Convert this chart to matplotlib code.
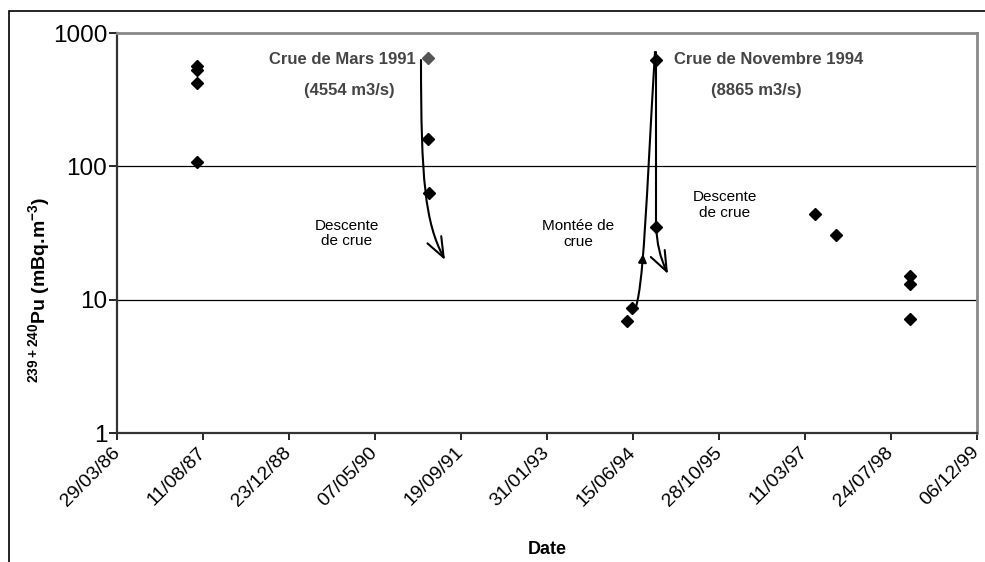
import datetime as dt
import matplotlib
matplotlib.use("Agg")
import matplotlib.pyplot as plt
import matplotlib.dates as mdates
from matplotlib.patches import FancyArrowPatch, Rectangle
from matplotlib.path import Path
from matplotlib.ticker import FixedLocator, FixedFormatter, NullLocator

plt.rcParams['font.family'] = ['Liberation Sans', 'DejaVu Sans']
plt.rcParams['mathtext.fontset'] = 'custom'
plt.rcParams['mathtext.rm'] = 'Liberation Sans'
plt.rcParams['mathtext.bf'] = 'Liberation Sans:bold'

# ---------------- data ----------------
sample_dates = ["1987-07-05", "1987-07-05", "1987-07-05", "1987-07-05",
                "1991-03-14", "1991-03-15",
                "1994-05-09", "1994-06-07",
                "1994-10-27", "1994-10-28",
                "1997-05-08", "1997-09-07",
                "1998-11-10", "1998-11-10", "1998-11-10"]
pu_values = [565, 527, 422, 108,
             160, 63.4,
             6.9, 8.7,
             627, 34.8,
             43.7, 30.5,
             15.0, 13.0, 7.1]

peak_1991_date = ["1991-03-13"]
peak_1991_value = [646]

y_ticks = [1, 10, 100, 1000]
y_tick_labels = ["1", "10", "100", "1000"]
x_start = "1986-03-29"
x_step_days = 500
n_x_ticks = 11

annotations = [
    ("Crue de Mars 1991", 0.2622, 0.935, True),
    ("(4554 m3/s)", 0.2703, 0.8575, True),
    ("Crue de Novembre 1994", 0.7581, 0.935, True),
    ("(8865 m3/s)", 0.7436, 0.8575, True),
    ("Descente\nde crue", 0.2674, 0.4988, False),
    ("Montée de\ncrue", 0.536, 0.4975, False),
    ("Descente\nde crue", 0.707, 0.570, False),
]

# ---------------- figure ----------------
W, H = 985, 562
fig = plt.figure(figsize=(W / 100, H / 100), dpi=100)
ax = fig.add_axes([117 / W, 1 - 433 / H, 860 / W, 400 / H])

to_date = lambda s: dt.datetime.strptime(s, "%Y-%m-%d")
xd = [to_date(s) for s in sample_dates]

ax.set_yscale('log')
ax.set_ylim(1, 1000)
x0 = to_date(x_start)
xticks = [x0 + dt.timedelta(days=x_step_days * k) for k in range(n_x_ticks)]
ax.set_xlim(xticks[0], xticks[-1])

ax.plot(xd, pu_values, linestyle='none', marker='D', ms=6.3,
        color='black', zorder=5, clip_on=False)
ax.plot([to_date(s) for s in peak_1991_date], peak_1991_value,
        linestyle='none', marker='D', ms=6.3, color='#555555', zorder=5)

# grid
for v in y_ticks[1:-1]:
    ax.axhline(v, color='black', lw=0.9, zorder=1)

ax.yaxis.set_major_locator(FixedLocator(y_ticks))
ax.yaxis.set_major_formatter(FixedFormatter(y_tick_labels))
ax.yaxis.set_minor_locator(NullLocator())
ax.tick_params(axis='y', which='major', direction='out', length=6,
               width=1.2, labelsize=17.5, pad=1, colors='black')

ax.xaxis.set_major_locator(FixedLocator(mdates.date2num(xticks)))
ax.xaxis.set_major_formatter(mdates.DateFormatter('%d/%m/%y'))
ax.xaxis.set_minor_locator(NullLocator())
ax.tick_params(axis='x', which='major', direction='out', length=5,
               width=1.2, labelsize=14, pad=7)
for lab in ax.get_xticklabels():
    lab.set_rotation(45)
    lab.set_ha('right')
    lab.set_va('center')
    lab.set_rotation_mode('anchor')

for side in ['top', 'right']:
    ax.spines[side].set_color('#888888')
    ax.spines[side].set_linewidth(2.0)
for side in ['left', 'bottom']:
    ax.spines[side].set_color('#333333')
    ax.spines[side].set_linewidth(1.6)

# text annotations
for txt, fx, fy, bold in annotations:
    if bold:
        ax.text(fx, fy, txt, transform=ax.transAxes, ha='center', va='center',
                fontsize=12, fontweight='bold', color='#454545', zorder=6)
    else:
        ax.text(fx, fy, txt, transform=ax.transAxes, ha='center', va='center',
                fontsize=11, color='black', linespacing=1.15, zorder=6)

# arrows (axes-fraction coordinates)
def px(x, y):
    return ((x - 117) / 860, (433 - y) / 400)

def draw_arrow(verts, codes, style='->,head_length=0.9,head_width=0.35', ms=14):
    p = Path([px(*v) for v in verts], codes)
    a = FancyArrowPatch(path=p, arrowstyle=style, mutation_scale=ms,
                        lw=1.5, color='black', transform=ax.transAxes, zorder=4)
    ax.add_patch(a)

C4 = Path.CURVE4
draw_arrow([(421, 60), (421, 180), (425, 222), (445, 260)],
           [Path.MOVETO, C4, C4, C4], ms=16)
draw_arrow([(634, 312), (644, 292), (646, 200), (655, 52)],
           [Path.MOVETO, C4, C4, C4], style='-')
draw_arrow([(642.6, 261), (643.1, 254)], [Path.MOVETO, Path.LINETO],
           style='-|>,head_length=0.6,head_width=0.3', ms=8)
draw_arrow([(656, 52), (656, 225), (657, 252), (668, 274)],
           [Path.MOVETO, Path.LINETO, Path.CURVE3, Path.CURVE3], ms=16)

# axis titles
fig.text(40 / W, 1 - 290 / H, r'$^{\mathbf{239+240}}$Pu (mBq.m$^{\mathbf{-3}}$)',
         rotation=90, ha='center', va='center', fontsize=14, fontweight='bold')
fig.text(547 / W, 1 - 549 / H, 'Date', ha='center', va='center',
         fontsize=13, fontweight='bold')

# outer border
fig.add_artist(Rectangle((9 / W, -0.1), 1.2, (H - 11) / H + 0.1,
                         transform=fig.transFigure, fill=False,
                         edgecolor='black', lw=1.2))

fig.savefig('out.png', dpi=100)
